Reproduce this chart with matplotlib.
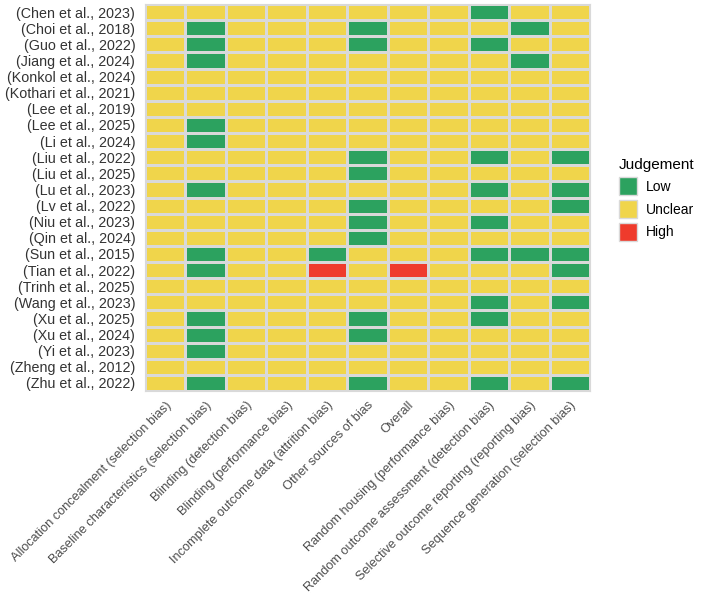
import matplotlib.pyplot as plt
import numpy as np
from matplotlib.colors import ListedColormap
from matplotlib.patches import Patch

plt.rcParams['font.family'] = ['Liberation Sans', 'DejaVu Sans']

studies = ["(Chen et al., 2023)", "(Choi et al., 2018)", "(Guo et al., 2022)",
           "(Jiang et al., 2024)", "(Konkol et al., 2024)", "(Kothari et al., 2021)",
           "(Lee et al., 2019)", "(Lee et al., 2025)", "(Li et al., 2024)",
           "(Liu et al., 2022)", "(Liu et al., 2025)", "(Lu et al., 2023)",
           "(Lv et al., 2022)", "(Niu et al., 2023)", "(Qin et al., 2024)",
           "(Sun et al., 2015)", "(Tian et al., 2022)", "(Trinh et al., 2025)",
           "(Wang et al., 2023)", "(Xu et al., 2025)", "(Xu et al., 2024)",
           "(Yi et al., 2023)", "(Zheng et al., 2012)", "(Zhu et al., 2022)"]

domains = ["Allocation concealment (selection bias)",
           "Baseline characteristics (selection bias)",
           "Blinding (detection bias)",
           "Blinding (performance bias)",
           "Incomplete outcome data (attrition bias)",
           "Other sources of bias",
           "Overall",
           "Random housing (performance bias)",
           "Random outcome assessment (detection bias)",
           "Selective outcome reporting (reporting bias)",
           "Sequence generation (selection bias)"]

levels = ["Low", "Unclear", "High"]

# judgements per study, one letter per domain: L = Low, U = Unclear, H = High
judgements = ["UUUUUUUULUU",
              "ULUUULUUULU",
              "ULUUULUULUU",
              "ULUUUUUUULU",
              "UUUUUUUUUUU",
              "UUUUUUUUUUU",
              "UUUUUUUUUUU",
              "ULUUUUUUUUU",
              "ULUUUUUUUUU",
              "UUUUULUULUL",
              "UUUUULUUUUU",
              "ULUUUUUULUL",
              "UUUUULUUUUL",
              "UUUUULUULUU",
              "UUUUULUUUUU",
              "ULUULUUULLL",
              "ULUUHUHUUUL",
              "UUUUUUUUUUU",
              "UUUUUUUULUL",
              "ULUUULUULUU",
              "ULUUULUUUUU",
              "ULUUUUUUUUU",
              "UUUUUUUUUUU",
              "ULUUULUULUL"]

colors = ["#2ca25f", "#f0d54b", "#ef3b2c"]

code = {"L": 0, "U": 1, "H": 2}
grid = np.array([[code[c] for c in row] for row in judgements])

fig = plt.figure(figsize=(7.02, 5.99), dpi=100)
ax = fig.add_axes([145 / 702, 1 - 391 / 599, 445 / 702, 387 / 599])

ax.pcolormesh(grid, cmap=ListedColormap(colors), vmin=-0.5, vmax=2.5,
              edgecolors="#d9d9d9", linewidth=1.0)
ax.set_xlim(0, len(domains))
ax.set_ylim(len(studies), 0)

ax.set_xticks(np.arange(len(domains)) + 0.5)
ax.set_xticklabels(domains, rotation=45, ha="right", rotation_mode="anchor",
                   fontsize=9.2, color="#4d4d4d")
ax.set_yticks(np.arange(len(studies)) + 0.5)
ax.set_yticklabels(studies, fontsize=10.3, color="#333333")
ax.tick_params(axis="x", length=0, pad=6)
ax.tick_params(axis="y", length=0, pad=7)
for s in ax.spines.values():
    s.set_color("#d9d9d9")

handles = [Patch(facecolor=c, edgecolor="#d9d9d9", label=l) for c, l in zip(colors, levels)]
leg = fig.legend(handles=handles, title="Judgement", loc="upper left",
                 bbox_to_anchor=(606 / 702, 1 - 146 / 599), frameon=False,
                 fontsize=10, title_fontsize=11, handlelength=1.3, handleheight=1.6,
                 handletextpad=0.7, labelspacing=0.35)
leg._legend_box.align = "left"

fig.savefig("out.png", dpi=100)
